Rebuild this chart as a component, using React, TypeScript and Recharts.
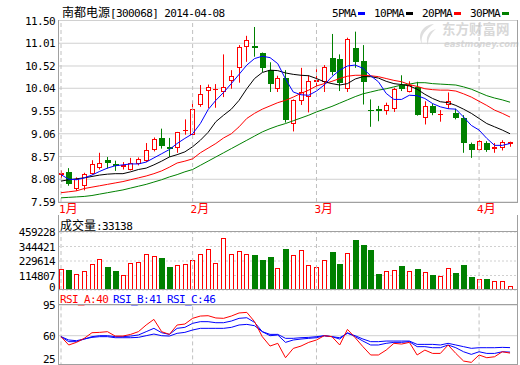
import React from 'react';
import { ComposedChart, Bar, Line, XAxis, YAxis, CartesianGrid, ReferenceLine } from 'recharts';

// daily k-line, 2014-01-08 .. 2014-04-08
const openPx = [8.18, 8.23, 7.87, 7.94, 8.20, 8.33, 8.49, 8.40, 8.34, 8.29, 8.40, 8.48, 8.72, 8.96, 8.77, 8.76, 9.12, 9.04, 9.69, 9.98,
  10.01, 9.95, 10.19, 10.47, 10.92, 10.95, 10.79, 10.43, 10.02, 10.26, 9.28, 9.76, 9.85, 10.18, 10.18, 10.70, 10.68, 10.03, 10.90, 10.62,
  9.57, 9.60, 9.55, 9.60, 10.11, 9.96, 10.07, 9.39, 9.66, 9.47, 9.68, 9.51, 9.40, 8.83, 8.72, 8.87, 8.74, 8.75, 8.85];
const highPx = [8.27, 8.32, 8.12, 8.22, 8.49, 8.65, 8.56, 8.48, 8.45, 8.54, 8.55, 8.86, 8.98, 9.17, 8.97, 9.10, 9.37, 9.76, 10.11, 10.12,
  10.13, 10.77, 10.43, 10.97, 11.17, 11.36, 10.81, 10.60, 10.31, 10.43, 9.80, 10.48, 10.32, 10.45, 10.54, 11.21, 10.77, 11.13, 11.26, 10.97,
  9.80, 9.66, 9.73, 10.05, 10.32, 10.19, 10.18, 9.76, 9.71, 9.57, 9.95, 9.60, 9.46, 8.87, 8.92, 8.90, 8.86, 8.92, 8.89];
const lowPx = [8.10, 7.94, 7.83, 7.84, 8.18, 8.29, 8.31, 8.26, 8.29, 8.27, 8.38, 8.45, 8.68, 8.74, 8.56, 8.65, 9.04, 9.03, 9.64, 9.61,
  9.62, 9.85, 10.03, 10.16, 10.61, 10.72, 10.39, 9.96, 9.96, 9.30, 9.11, 9.68, 9.52, 10.00, 9.96, 10.32, 9.98, 9.96, 10.48, 9.69,
  9.21, 9.33, 9.47, 9.53, 9.98, 9.95, 9.45, 9.26, 9.46, 9.32, 9.60, 9.37, 8.65, 8.54, 8.70, 8.67, 8.65, 8.70, 8.78];
const closePx = [8.22, 7.97, 8.08, 8.19, 8.40, 8.42, 8.44, 8.36, 8.39, 8.42, 8.51, 8.71, 8.94, 8.79, 8.73, 9.09, 9.15, 9.60, 9.91, 10.06,
  10.02, 10.06, 10.31, 10.93, 11.08, 10.90, 10.47, 10.14, 10.26, 9.35, 9.78, 9.95, 10.19, 10.21, 10.49, 10.39, 10.16, 11.10, 10.60, 10.18,
  9.56, 9.55, 9.69, 10.02, 10.03, 10.11, 9.46, 9.65, 9.51, 9.48, 9.76, 9.40, 8.86, 8.72, 8.90, 8.70, 8.77, 8.88, 8.88];
const volume = [165230, 157410, 123060, 154180, 202370, 249120, 181050, 149260, 115330, 210480, 220160, 288340, 273050, 252410, 181200,
  194030, 202550, 236180, 288020, 328410, 210360, 415270, 288110, 312060, 281430, 275120, 236390, 259080, 170250, 323140, 273460,
  320070, 194220, 178310, 236050, 299180, 204260, 296370, 394150, 354020, 315260, 125090, 154310, 162040, 189270, 154120, 165380,
  139050, 118260, 107140, 178090, 133270, 196150, 102060, 86210, 86040, 68320, 75190, 33138];

const ma5 = [8.18, 8.08, 8.07, 8.11, 8.17, 8.25, 8.32, 8.37, 8.39, 8.41, 8.41, 8.45, 8.54, 8.63, 8.72, 8.85, 8.96, 9.06, 9.28, 9.58,
  9.78, 9.95, 10.14, 10.34, 10.54, 10.68, 10.73, 10.70, 10.57, 10.24, 9.96, 9.90, 9.89, 9.98, 10.11, 10.29, 10.43, 10.52, 10.54, 10.47,
  10.31, 10.18, 9.93, 9.80, 9.80, 9.89, 9.88, 9.82, 9.71, 9.64, 9.60, 9.59, 9.42, 9.24, 9.14, 8.96, 8.81, 8.81, 8.85];
const ma10 = [8.04, 8.07, 8.09, 8.11, 8.14, 8.17, 8.19, 8.20, 8.20, 8.24, 8.29, 8.32, 8.39, 8.47, 8.56, 8.61, 8.67, 8.78, 8.92, 9.09,
  9.32, 9.46, 9.59, 9.78, 10.03, 10.25, 10.38, 10.43, 10.42, 10.37, 10.34, 10.32, 10.31, 10.25, 10.18, 10.14, 10.11, 10.14, 10.24, 10.29,
  10.29, 10.26, 10.19, 10.14, 10.12, 10.09, 10.02, 9.91, 9.82, 9.75, 9.73, 9.67, 9.59, 9.50, 9.39, 9.28, 9.21, 9.14, 9.06];
const ma20 = [7.79, 7.81, 7.83, 7.88, 7.91, 7.94, 7.97, 8.00, 8.03, 8.07, 8.11, 8.15, 8.20, 8.26, 8.34, 8.43, 8.47, 8.52, 8.65, 8.75,
  8.85, 8.97, 9.06, 9.21, 9.39, 9.50, 9.59, 9.66, 9.73, 9.78, 9.85, 9.93, 10.00, 10.09, 10.14, 10.19, 10.25, 10.30, 10.32, 10.32,
  10.31, 10.29, 10.25, 10.21, 10.18, 10.12, 10.08, 10.03, 10.01, 10.00, 10.00, 9.98, 9.92, 9.85, 9.76, 9.67, 9.57, 9.50, 9.42];
const ma30 = [7.68, 7.69, 7.70, 7.71, 7.73, 7.76, 7.79, 7.82, 7.85, 7.89, 7.93, 7.97, 8.02, 8.07, 8.13, 8.18, 8.24, 8.29, 8.38, 8.47,
  8.56, 8.65, 8.74, 8.83, 8.92, 9.01, 9.10, 9.17, 9.23, 9.28, 9.34, 9.40, 9.46, 9.53, 9.59, 9.65, 9.72, 9.79, 9.86, 9.92,
  9.96, 10.00, 10.03, 10.07, 10.11, 10.13, 10.16, 10.16, 10.14, 10.13, 10.12, 10.11, 10.07, 10.02, 9.95, 9.88, 9.83, 9.79, 9.74];

const rsiA = [58.9, 49.4, 52.4, 57.0, 63.4, 63.8, 64.6, 59.6, 59.6, 61.5, 64.6, 72.2, 78.6, 64.6, 61.5, 72.2, 73.3, 79.8, 82.4, 82.8,
  80.2, 79.8, 82.4, 85.9, 86.6, 76.0, 58.9, 48.2, 51.3, 34.9, 45.5, 48.2, 52.4, 55.1, 60.0, 58.9, 49.4, 67.2, 57.7, 47.5,
  38.0, 38.0, 43.6, 51.3, 50.5, 52.4, 38.0, 43.6, 39.8, 39.8, 49.4, 39.8, 31.1, 29.6, 38.0, 34.9, 36.0, 41.7, 40.2];
const rsiB = [58.9, 53.2, 53.2, 56.2, 58.9, 60.0, 60.0, 58.9, 58.9, 59.6, 60.8, 64.6, 68.4, 63.4, 61.5, 68.4, 69.5, 74.1, 76.0, 76.0,
  74.8, 74.8, 76.7, 79.8, 80.5, 75.2, 64.6, 60.0, 60.8, 52.4, 55.1, 56.2, 57.0, 57.7, 60.0, 58.9, 56.2, 63.4, 58.9, 53.9,
  49.4, 49.4, 51.3, 52.4, 52.4, 53.2, 47.5, 47.5, 46.3, 46.3, 49.4, 46.3, 41.7, 38.7, 41.7, 39.8, 39.8, 41.7, 41.3];
const rsiC = [58.9, 55.1, 54.3, 56.2, 58.1, 58.9, 58.9, 57.7, 57.7, 57.7, 58.1, 60.0, 61.9, 60.0, 59.6, 62.7, 63.8, 66.5, 68.4, 68.4,
  68.4, 68.4, 69.5, 72.2, 72.9, 71.4, 64.6, 61.5, 61.5, 57.0, 57.0, 57.7, 58.1, 58.9, 60.0, 58.9, 57.7, 62.7, 60.0, 56.2,
  53.2, 53.2, 53.9, 53.9, 53.9, 53.9, 50.1, 50.1, 50.1, 49.4, 51.3, 49.4, 47.5, 45.6, 46.3, 46.3, 46.3, 46.7, 46.4];

const monthLabels = ['1月', '2月', '3月', '4月'];
const monthStartIdx = [0, 17, 33, 54];
const priceTicks = [7.59, 8.08, 8.57, 9.06, 9.55, 10.04, 10.52, 11.01, 11.5];
const volTicks = [0, 114807, 229614, 344421, 459228];
const rsiTicks = [25, 60, 95];

const UP = '#ff0000';
const DOWN = '#008000';
const BORDER = '#a0a0a0';
const GRID = '#d0d0d0';
const X_DOMAIN = [-0.3875, 58.9];

const rows = closePx.map((c, i) => ({
  i,
  open: openPx[i],
  high: highPx[i],
  low: lowPx[i],
  close: c,
  range: [lowPx[i], highPx[i]],
  vol: volume[i],
  ma5: ma5[i],
  ma10: ma10[i],
  ma20: ma20[i],
  ma30: ma30[i],
  rsiA: rsiA[i],
  rsiB: rsiB[i],
  rsiC: rsiC[i],
}));

const isCjk = (ch: string) => ch.charCodeAt(0) > 0x2e80;
const runsOf = (s: string) => {
  const runs: { t: string; cjk: boolean }[] = [];
  for (const ch of s) {
    const c = isCjk(ch);
    const last = runs[runs.length - 1];
    if (last && last.cjk === c) last.t += ch;
    else runs.push({ t: ch, cjk: c });
  }
  return runs;
};
const MONO = '"DejaVu Sans Mono", monospace';
const CJK = '"Noto Sans CJK SC", sans-serif';

// html label, SimSun-ish mix: 6px latin, 12px hanzi
const Txt = ({ text, left, top, color = '#000' }: any) => (
  <div style={{ position: 'absolute', left, top, color, whiteSpace: 'pre', lineHeight: '14px' }}>
    {runsOf(text).map((r, k) => (
      <span key={k} style={r.cjk ? { fontFamily: CJK, fontSize: 12 } : { fontFamily: MONO, fontSize: 11, letterSpacing: -0.6 }}>{r.t}</span>
    ))}
  </div>
);

const Box = ({ left, top, width, height, sides = 'all' }: any) => (
  <div
    style={{
      position: 'absolute', left, top, width, height, boxSizing: 'border-box', pointerEvents: 'none',
      border: sides === 'all' ? `1px solid ${BORDER}` : undefined,
      borderTop: sides === 'top' ? `1px solid ${BORDER}` : undefined,
    }}
  />
);

const Candle = (props: any) => {
  const { x, y, width, height, payload } = props;
  const { open, close, high, low } = payload;
  const n = Math.round(x + width / 2 - 0.5);
  const k = height / (high - low);
  const py = (v: number) => y + (high - v) * k;
  const up = close >= open;
  const col = up ? UP : DOWN;
  const top = Math.round(py(Math.max(open, close)));
  const bot = Math.max(Math.round(py(Math.min(open, close))), top + 1);
  return (
    <g>
      <line x1={n + 0.5} x2={n + 0.5} y1={y} y2={y + height} stroke={col} strokeWidth={1} />
      {up ? (
        <rect x={n - 1.5} y={top + 0.5} width={4} height={Math.max(bot - top - 1, 0.01)} fill="#fff" stroke={col} strokeWidth={1} />
      ) : (
        <rect x={n - 2} y={top} width={6} height={bot - top} fill={col} />
      )}
    </g>
  );
};

const VolBar = (props: any) => {
  const { x, y, width, height, payload } = props;
  const n = Math.round(x + width / 2 - 0.5);
  const up = payload.close >= payload.open;
  const t = Math.round(y);
  const b = Math.round(y + height);
  return up ? (
    <rect x={n - 1.5} y={t + 0.5} width={4} height={Math.max(b - t - 1, 0.01)} fill="#fff" stroke={UP} strokeWidth={1} />
  ) : (
    <rect x={n - 2} y={t} width={6} height={b - t} fill={DOWN} />
  );
};

const yTick = (fmt: (v: number) => string, maxY: number) => (props: any) => {
  const { y, payload } = props;
  const yy = Math.min(y, maxY);
  return (
    <text x={55} y={yy + 4} textAnchor="end" fontFamily={MONO} fontSize={11} letterSpacing={-0.6} fill="#000">
      {fmt(payload.value)}
    </text>
  );
};

const MonthTick = (props: any) => {
  const { x, payload } = props;
  const label = monthLabels[monthStartIdx.indexOf(payload.value)] || '';
  return (
    <text x={x - 2} y={213} fill={UP}>
      {runsOf(label).map((r, k) => (
        <tspan key={k} fontFamily={r.cjk ? CJK : MONO} fontSize={r.cjk ? 12 : 11}>{r.t}</tspan>
      ))}
    </text>
  );
};

const monthLines = () =>
  monthStartIdx.map((m) => (
    <ReferenceLine key={m} x={m} stroke="#c0c0c0" strokeDasharray="4 3" ifOverflow="extendDomain" />
  ));

const legend = [
  { name: '5PMA', color: '#0000ff', x: 332 },
  { name: '10PMA', color: '#000000', x: 374 },
  { name: '20PMA', color: '#ff0000', x: 422 },
  { name: '30PMA', color: '#008000', x: 470 },
];

export default function App() {
  return (
    <div style={{ position: 'fixed', left: 0, top: 0, width: 520, height: 365, overflow: 'hidden', background: '#fff' }}>
      {/* watermark */}
      <svg style={{ position: 'absolute', left: 414, top: 21 }} width={26} height={25}>
        <path d="M20 3 C 8 4, 3 14, 8 23 C 6 14, 12 8, 20 3 Z" fill="#dedede" />
        <path d="M22 8 C 14 10, 11 17, 14 24 C 14 17, 17 12, 22 8 Z" fill="#dedede" />
      </svg>
      <div style={{ position: 'absolute', left: 442, top: 21, color: '#d8d8d8', fontFamily: CJK, fontSize: 13.5, lineHeight: '14px', fontWeight: 700 }}>东方财富网</div>
      <div style={{ position: 'absolute', left: 444, top: 40, color: '#d8d8d8', fontFamily: '"DejaVu Sans", sans-serif', fontSize: 8.5, lineHeight: '8px', fontWeight: 700, fontStyle: 'italic' }}>eastmoney.com</div>

      {/* price panel */}
      <div style={{ position: 'absolute', left: 0, top: 0 }}>
        <ComposedChart width={520} height={218} data={rows} margin={{ top: 20.5, right: 3, bottom: 0, left: 0 }}>
          <CartesianGrid vertical={false} stroke={GRID} />
          <XAxis dataKey="i" type="number" domain={X_DOMAIN} allowDataOverflow ticks={monthStartIdx} height={16}
            axisLine={false} tickLine={false} tick={<MonthTick />} interval={0} />
          <YAxis domain={[7.59, 11.5]} allowDataOverflow ticks={priceTicks} width={58} axisLine={false} tickLine={false}
            interval={0} tick={yTick((v) => v.toFixed(2), 999)} />
          {monthLines()}
          <Bar dataKey="range" barSize={6} shape={<Candle />} isAnimationActive={false} />
          <Line dataKey="ma30" stroke="#008000" dot={false} strokeWidth={1} isAnimationActive={false} />
          <Line dataKey="ma20" stroke="#ff0000" dot={false} strokeWidth={1} isAnimationActive={false} />
          <Line dataKey="ma10" stroke="#000000" dot={false} strokeWidth={1} isAnimationActive={false} />
          <Line dataKey="ma5" stroke="#0000ff" dot={false} strokeWidth={1} isAnimationActive={false} />
        </ComposedChart>
      </div>

      {/* volume panel */}
      <div style={{ position: 'absolute', left: 0, top: 216 }}>
        <ComposedChart width={520} height={80} data={rows} margin={{ top: 16, right: 3, bottom: 6, left: 0 }}>
          <CartesianGrid vertical={false} stroke={GRID} strokeDasharray="2 2" />
          <XAxis dataKey="i" type="number" domain={X_DOMAIN} allowDataOverflow hide height={0} />
          <YAxis domain={[0, 459228]} allowDataOverflow ticks={volTicks} width={58} axisLine={false} tickLine={false}
            interval={0} tick={yTick((v) => String(v), 71)} />
          {monthLines()}
          <Bar dataKey="vol" barSize={6} shape={<VolBar />} isAnimationActive={false} />
        </ComposedChart>
      </div>

      {/* rsi panel */}
      <div style={{ position: 'absolute', left: 0, top: 289 }}>
        <ComposedChart width={520} height={80} data={rows} margin={{ top: 16, right: 3, bottom: 2.6, left: 0 }}>
          <CartesianGrid vertical={false} stroke={GRID} />
          <XAxis dataKey="i" type="number" domain={X_DOMAIN} allowDataOverflow hide height={0} />
          <YAxis domain={[25, 95]} allowDataOverflow ticks={rsiTicks} width={58} axisLine={false} tickLine={false}
            interval={0} tick={yTick((v) => String(v), 70)} />
          {monthLines()}
          <Line dataKey="rsiC" stroke="#0000ff" dot={false} strokeWidth={1} isAnimationActive={false} />
          <Line dataKey="rsiB" stroke="#0000ff" dot={false} strokeWidth={1} isAnimationActive={false} />
          <Line dataKey="rsiA" stroke="#ff0000" dot={false} strokeWidth={1} isAnimationActive={false} />
        </ComposedChart>
      </div>

      {/* frames */}
      <Box left={58} top={20} width={460} height={183} />
      <Box left={58} top={215} width={460} height={75} />
      <Box left={58} top={231} width={460} height={1} sides="top" />
      <Box left={58} top={289} width={460} height={76} />
      <Box left={58} top={304} width={460} height={1} sides="top" />

      {/* titles */}
      <Txt text="南都电源[300068] 2014-04-08" left={62} top={5} />
      {legend.map((l) => (
        <React.Fragment key={l.name}>
          <Txt text={l.name} left={l.x} top={5} />
          <div style={{ position: 'absolute', left: l.x + (l.name.length * 6) + 2, top: 12, width: 7, height: 3, background: l.color }} />
        </React.Fragment>
      ))}
      <Txt text="成交量:33138" left={60} top={218} />
      <Txt text="RSI_A:40" left={60} top={291} color="#ff0000" />
      <Txt text="RSI_B:41" left={113} top={291} color="#0000ff" />
      <Txt text="RSI_C:46" left={167} top={291} color="#0000ff" />
    </div>
  );
}
